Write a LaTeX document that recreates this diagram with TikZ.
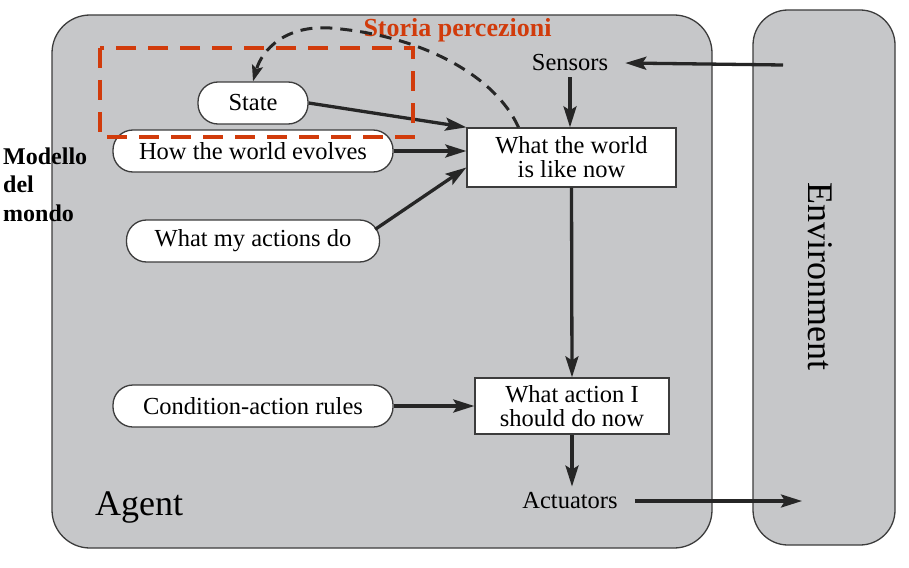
\documentclass[tikz,border=0pt]{standalone}
\usepackage{fontspec}
\setmainfont{Liberation Serif}
\usepackage{xcolor}
\usepackage{tikz}
\usetikzlibrary{arrows.meta,calc}
\definecolor{agentgray}{HTML}{C6C7C9}
\definecolor{edgegray}{HTML}{3C3C3C}
\definecolor{storiared}{HTML}{D13B0B}
\tikzset{
  pill/.style={draw=edgegray, fill=white, line width=1.3, rounded corners=20, minimum height=42, inner sep=0, font=\fontsize{24.5}{24}\selectfont},
  box/.style={draw=edgegray, fill=white, line width=1.3, inner sep=0, align=center, font=\fontsize{24.5}{24}\selectfont},
  port/.style={inner xsep=17, inner ysep=6, font=\fontsize{24.5}{24}\selectfont},
  arr/.style={-{Stealth[length=21,width=13,inset=4]}, line width=3.3, draw=black!85},
}

\begin{document}
\begin{tikzpicture}[x=1pt,y=-1pt]
  \useasboundingbox (0,0) rectangle (909,567);
  \draw[edgegray, fill=agentgray, line width=1.3, rounded corners=38] (52,15) rectangle (712,548);
  \draw[edgegray, fill=agentgray, line width=1.3, rounded corners=35] (753,10) rectangle (895,545);

  \node[pill, minimum width=110] (state) at (253,103) {State};
  \node[pill, minimum width=280] (evolves) at (253,151) {How the world evolves};
  \node[pill, minimum width=253] (actions) at (253,241) {What my actions do};
  \node[pill, minimum width=280] (rules) at (253,406) {Condition-action rules};
  \node[box, minimum width=209, minimum height=59] (world) at (571.5,157.5) {What the world\\is like now};
  \node[box, minimum width=194, minimum height=56] (action) at (572,406) {What action I\\should do now};
  \node[port] (sensors) at (570,63) {Sensors};
  \node[port] (actuators) at (570,501) {Actuators};
  \node[font=\fontsize{36}{36}\selectfont, anchor=base west, inner sep=0] (agentlbl) at (95,515) {Agent};
  \node[font=\fontsize{36}{36}\selectfont, rotate=-90, inner sep=0] (envlbl) at (820,276) {Environment};
  \node[font=\bfseries\fontsize{24}{28.5}\selectfont, align=left, anchor=north west, inner sep=0] (modello) at (3,147.5) {Modello\\del\\mondo};

  \coordinate (percept) at (783,65);
  \coordinate (act) at (802,501);
  \draw[arr] (percept) -- (sensors.east);
  \draw[arr] (sensors.south) -- (sensors.south |- world.north);
  \draw[arr] (state.east) -- (world.north west);
  \draw[arr] (evolves.east) -- (evolves.east -| world.west);
  \draw[arr] ([xshift=-5pt,yshift=-10pt]actions.north east) -- ([yshift=-10pt]world.west);
  \draw[arr] (world.south) -- (action.north);
  \draw[arr] (rules.east) -- (action.west);
  \draw[arr] (action.south) -- (action.south |- actuators.north);
  \draw[arr] (actuators.east) -- (act);

  \draw[storiared, line width=4, dash pattern=on 20 off 12] (100,48) rectangle (413,137);
  \node[font=\bfseries\fontsize{26}{26}\selectfont, text=storiared, anchor=base, inner sep=0] (storia) at (457.5,37) {Storia percezioni};

  \draw[black!85, line width=3, dash pattern=on 12 off 8, -{Stealth[length=16,width=11,inset=3]}] ([xshift=-53pt]world.north) .. controls (495,75) and (420,35) .. (330,28) .. controls (285,25) and (262,50) .. (state.north);
\end{tikzpicture}
\end{document}
